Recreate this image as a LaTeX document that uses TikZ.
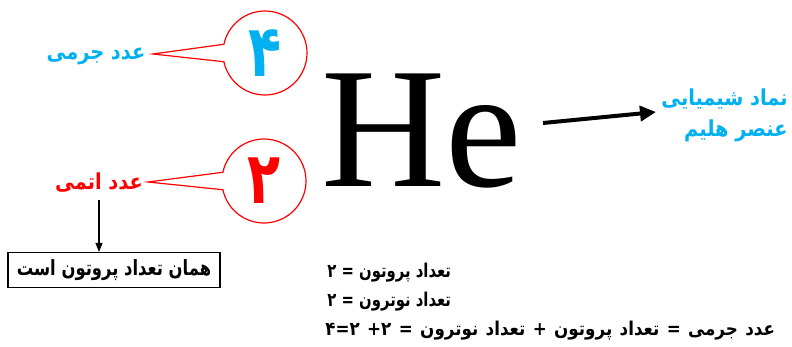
\documentclass[tikz,border=0pt]{standalone}
\usepackage{fontspec}
\usetikzlibrary{arrows.meta,calc}
\TeXXeTstate=1
\newfontfamily\arabicfont[Script=Arabic]{DejaVu Sans}
\newfontfamily\arN[Script=Arabic,FakeStretch=0.78]{DejaVu Sans}
\newfontfamily\arM[Script=Arabic,FakeStretch=0.88]{DejaVu Sans}
\newfontfamily\arD[Script=Arabic,FakeStretch=0.75]{DejaVu Sans}
\newfontfamily\hefont{Liberation Serif}
\definecolor{skyc}{HTML}{00B0F0}
\definecolor{redc}{HTML}{FF0000}
\begin{document}
\begin{tikzpicture}[x=0.5pt,y=-0.5pt,
  ar/.style={inner sep=0pt},
  callout/.style={draw=redc, line width=0.6pt},
  numc/.style={circle, minimum size=42pt, inner sep=0pt, font=\arD\bfseries\fontsize{36}{36}\selectfont},
  blackarrow/.style={-{Triangle[length=4.5pt,width=3.5pt]}, line width=0.6pt},
  thickarrow/.style={-{Triangle[length=8pt,width=7.5pt]}, line width=2pt},
  lbl/.style={ar, font=\arM\bfseries\fontsize{11}{13}\selectfont},
  eqs/.style={ar, anchor=west, font=\arN\bfseries\fontsize{9.5}{11}\selectfont}]
\useasboundingbox (0,0) rectangle (792,347);
% circles
\node[numc, text=skyc] (c1) at (265,53) {۴};
\node[numc, text=redc] (c2) at (264,181) {۲};
\coordinate (t1) at (153,54);
\coordinate (t2) at (148,182);
\draw[callout] (t1) -- ([shift={(168:21pt)}]c1.center) arc[start angle=168, end angle=-168, radius=21pt] -- cycle;
\draw[callout] (t2) -- ([shift={(168:21pt)}]c2.center) arc[start angle=168, end angle=-168, radius=21pt] -- cycle;
% labels
\node[lbl, text=skyc] (mass) at (96,56) {\beginR عدد جرمی\endR};
\node[lbl, text=redc, minimum height=17pt] (atomic) at (99,183) {\beginR عدد اتمی\endR};
\node[draw, line width=0.6pt, minimum width=106pt, minimum height=17.5pt, inner sep=0pt, font=\arN\bfseries\fontsize{10.5}{12}\selectfont] (box) at (114,270) {\beginR همان تعداد پروتون است\endR};
\draw[blackarrow] (atomic.south) -- (atomic.south |- box.north);
% He
\node[inner sep=0pt, anchor=base west, font=\hefont\fontsize{86}{86}\selectfont] (he) at (321,187) {He};
\node[ar, text=skyc, align=right, anchor=east, font=\arM\bfseries\fontsize{11}{15.5}\selectfont] (sym) at (788,115) {\beginR نماد شیمیایی\endR\\\beginR عنصر هلیم\endR};
\coordinate (a0) at (543,123);
\coordinate (a1) at (656,112);
\draw[thickarrow] (a0) -- (a1);
% bottom equations
\node[eqs] (eq1) at (327,273) {\beginR تعداد پروتون = ۲\endR};
\node[eqs] (eq2) at (327,302) {\beginR تعداد نوترون = ۲\endR};
\node[eqs, font=\arM\bfseries\fontsize{9.5}{11}\selectfont] (eq3) at (325,331) {\spaceskip=3.7pt\beginR عدد جرمی = تعداد پروتون + تعداد نوترون = \beginL ۴\kern0pt=\kern0pt۲ +\kern0pt۲\endL\endR};
\end{tikzpicture}
\end{document}
